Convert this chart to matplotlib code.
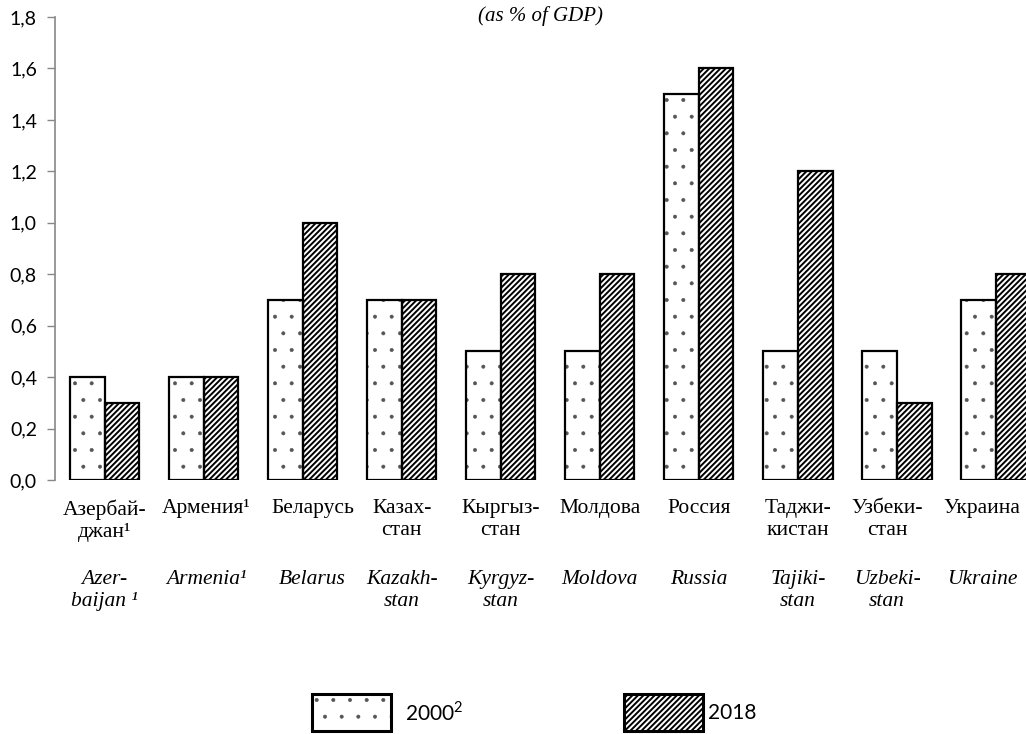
import matplotlib
matplotlib.use("Agg")
import matplotlib.pyplot as plt
from matplotlib.patches import Rectangle
from matplotlib.transforms import blended_transform_factory, offset_copy
import numpy as np

ru_labels = ["Азербай-\nджан¹", "Армения¹", "Беларусь", "Казах-\nстан", "Кыргыз-\nстан",
             "Молдова", "Россия", "Таджи-\nкистан", "Узбеки-\nстан", "Украина"]
en_labels = ["Azer-\nbaijan ¹", "Armenia¹", "Belarus", "Kazakh-\nstan", "Kyrgyz-\nstan",
             "Moldova", "Russia", "Tajiki-\nstan", "Uzbeki-\nstan", "Ukraine"]
v2000 = [0.4, 0.4, 0.7, 0.7, 0.5, 0.5, 1.5, 0.5, 0.5, 0.7]
v2018 = [0.3, 0.4, 1.0, 0.7, 0.8, 0.8, 1.6, 1.2, 0.3, 0.8]
yticks = [0.0, 0.2, 0.4, 0.6, 0.8, 1.0, 1.2, 1.4, 1.6, 1.8]
title = "(as % of GDP)"
legend_labels = ["2000$^2$", "2018"]

# label horizontal nudges in pixels (layout only)
label_dx = [0, 3, 10, 0, 0, 0, 0, 0, -10, -14]

plt.rcParams["mathtext.fontset"] = "custom"
plt.rcParams["mathtext.rm"] = "Lato"

W, H = 1026, 734
fig = plt.figure(figsize=(W/100, H/100), dpi=100)
ax = fig.add_axes([55/W, 1-480/H, 1-55/W, (480-17)/H])

x = np.arange(len(ru_labels))
bw = 0.35
DOT_HATCH, DOT_COLOR, DOT_LW = ".", "#555555", 0.4
LINE_HATCH, LINE_LW = "//////", 1.4

def set_hlw(patches, lw):
    for p in patches:
        if hasattr(p, "set_hatch_linewidth"):
            p.set_hatch_linewidth(lw)

with plt.rc_context({"hatch.linewidth": DOT_LW}):
    b1 = ax.bar(x - bw/2, v2000, bw, color="white", edgecolor=DOT_COLOR, hatch=DOT_HATCH, linewidth=0, zorder=2)
    set_hlw(b1, DOT_LW)
ax.bar(x - bw/2, v2000, bw, color="none", edgecolor="black", linewidth=1.6, zorder=3)
with plt.rc_context({"hatch.linewidth": LINE_LW}):
    b2 = ax.bar(x + bw/2, v2018, bw, color="white", edgecolor="black", hatch=LINE_HATCH, linewidth=0, zorder=2)
    set_hlw(b2, LINE_LW)
ax.bar(x + bw/2, v2018, bw, color="none", edgecolor="black", linewidth=1.6, zorder=3)

ax.set_xlim(-0.5, (1026-105)/99.0)
ax.set_ylim(0, 1.8)
ax.set_yticks(yticks)
ax.set_yticklabels([f"{t:.1f}".replace(".", ",") for t in yticks], fontsize=14, family="Lato")
ax.tick_params(axis="y", color="#888888", length=6, width=1, pad=7)
for s in ["top", "right", "bottom"]:
    ax.spines[s].set_visible(False)
ax.spines["left"].set_color("#888888")
ax.spines["left"].set_linewidth(1.2)
ax.set_xticks([])

tr = blended_transform_factory(ax.transData, fig.transFigure)
for i in x:
    t_i = offset_copy(tr, fig=fig, x=label_dx[i], y=0, units="dots")
    ax.text(i, 1-499/H, ru_labels[i], transform=t_i, ha="center", va="top",
            fontsize=15.5, family="Liberation Serif", linespacing=1.22, clip_on=False)
    ax.text(i, 1-570/H, en_labels[i], transform=t_i, ha="center", va="top",
            fontsize=15.5, family="Liberation Serif", style="italic", linespacing=1.22, clip_on=False)

fig.text(540/W, 1-16/H, title, ha="center", va="center", fontsize=15,
         family="Liberation Serif", style="italic")

# legend
def legend_box(x0, x1, y0, y1, hatch, hcolor, hlw):
    with plt.rc_context({"hatch.linewidth": hlw}):
        r = Rectangle((x0/W, 1-y1/H), (x1-x0)/W, (y1-y0)/H, transform=fig.transFigure,
                      facecolor="white", edgecolor=hcolor, hatch=hatch, linewidth=0)
        if hasattr(r, "set_hatch_linewidth"):
            r.set_hatch_linewidth(hlw)
    fig.add_artist(r)
    fig.add_artist(Rectangle((x0/W, 1-y1/H), (x1-x0)/W, (y1-y0)/H, transform=fig.transFigure,
                             facecolor="none", edgecolor="black", linewidth=2.2))

legend_box(312, 391, 694, 731, DOT_HATCH, DOT_COLOR, DOT_LW)
legend_box(624, 703, 694, 731, LINE_HATCH, "black", LINE_LW)
fig.text(405/W, 1-713/H, legend_labels[0], ha="left", va="center", fontsize=15, family="Lato")
fig.text(708/W, 1-713/H, legend_labels[1], ha="left", va="center", fontsize=15, family="Lato")

fig.savefig("out.png", dpi=100)
